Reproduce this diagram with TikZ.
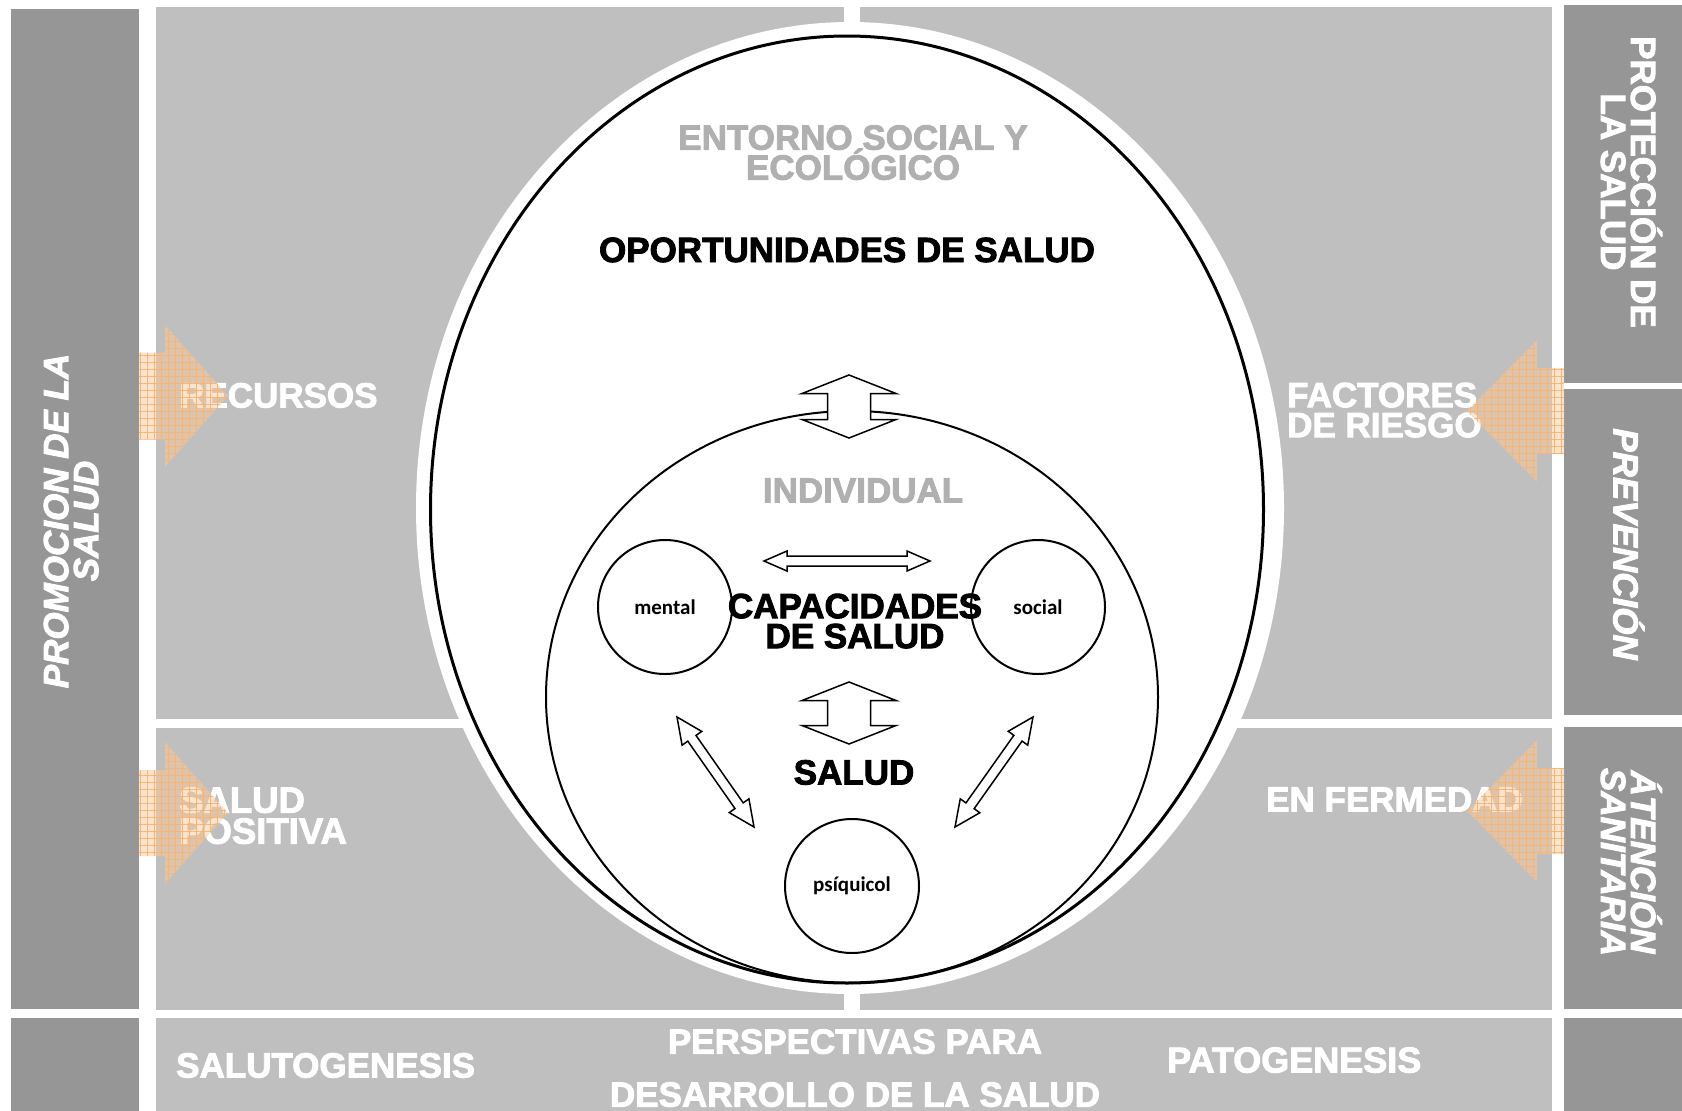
\documentclass[tikz,border=0pt]{standalone}
\usepackage{fontspec}
\setmainfont{Liberation Sans}[BoldFeatures={FakeBold=2.5},BoldItalicFeatures={FakeBold=2.5}]
\newfontfamily\calib{Carlito}
\usetikzlibrary{calc,patterns.meta}
\definecolor{darkcol}{HTML}{969696}
\definecolor{lightcol}{HTML}{BFBFBF}
\definecolor{txtgray}{HTML}{B0B0B0}
\definecolor{peach}{RGB}{251,201,153}
\definecolor{peachline}{RGB}{245,180,120}
\newcommand{\bigfont}{\fontsize{35}{30}\selectfont\bfseries\lineskiplimit=-60pt\relax}
\newcommand{\dblarrow}[5]{%
  \coordinate (#1-h) at ($(#1)!#5!(#2)$);
  \coordinate (#2-h) at ($(#2)!#5!(#1)$);
  \draw[blockarrow] (#1) -- ($(#1-h)!#4!90:(#2)$) -- ($(#1-h)!#3!90:(#2)$)
    -- ($(#2-h)!#3!-90:(#1)$) -- ($(#2-h)!#4!-90:(#1)$) -- (#2)
    -- ($(#2-h)!#4!90:(#1)$) -- ($(#2-h)!#3!90:(#1)$)
    -- ($(#1-h)!#3!-90:(#2)$) -- ($(#1-h)!#4!-90:(#2)$) -- cycle;
}
\newcommand{\peacharrow}[1]{%
  \fill[peach, fill opacity=0.5] #1;
  \path[pattern={Hatch[angle=0,distance=7pt,line width=0.4pt]}, pattern color=peachline, fill opacity=0.15] #1;
}
\begin{document}
\begin{tikzpicture}[x=1pt,y=-1pt,
  lbl/.style={font=\bigfont, text height=25pt, text depth=0pt, inner sep=0pt},
  mlbl/.style={font=\bigfont, inner sep=0pt},
  wlbl/.style={lbl, text=white},
  glbl/.style={lbl, text=txtgray},
  blbl/.style={lbl, text=black},
  ilbl/.style={lbl, text=white, font=\bigfont\itshape},
  smallc/.style={circle, draw, line width=2pt, minimum size=134pt, inner sep=0pt,
    font=\calib\fontsize{21}{24}\selectfont\bfseries},
  blockarrow/.style={draw, fill=white, line width=1.5pt, line join=miter},
]
\useasboundingbox (0,0) rectangle (1682,1111);
\fill[white] (0,0) rectangle (1682,1111);

% columns and panels
\fill[darkcol] (11,9) rectangle (139,1009);
\fill[darkcol] (11,1018) rectangle (139,1111);
\fill[lightcol] (156,7) rectangle (844,719);
\fill[lightcol] (860,7) rectangle (1552,719);
\fill[lightcol] (156,728) rectangle (844,1010);
\fill[lightcol] (860,728) rectangle (1552,1010);
\fill[lightcol] (156,1018) rectangle (1552,1111);
\fill[darkcol] (1564,5) rectangle (1682,383);
\fill[darkcol] (1564,389) rectangle (1682,715);
\fill[darkcol] (1564,727) rectangle (1682,1009);
\fill[darkcol] (1564,1018) rectangle (1682,1111);

% ellipses
\fill[white] (850,508) ellipse [x radius=434pt, y radius=486pt];
\draw[line width=3pt] (847,509.5) ellipse [x radius=416.5pt, y radius=473.5pt];
\draw[line width=2pt] (852,697) ellipse [x radius=306pt, y radius=286pt];

% small circles
\node[smallc] (mental) at (665,607) {mental};
\node[smallc] (social) at (1038,607) {social};
\node[smallc] (psiq) at (852,886) {psíquicol};

% texts
\node[mlbl, text=txtgray, align=center, anchor=north] (entorno) at (853,125) {ENTORNO SOCIAL Y\\ECOLÓGICO};
\node[blbl] (oport) at (847,249.5) {OPORTUNIDADES DE SALUD};
\node[glbl] (indiv) at (863,490) {INDIVIDUAL};
\node[mlbl, text=black, align=center, anchor=north] (capac) at (855,593.5) {CAPACIDADES\\DE SALUD};
\node[blbl] (salud) at (854,772) {SALUD};

\node[wlbl, anchor=west] (recursos) at (179,395) {RECURSOS};
\node[mlbl, text=white, align=left, anchor=north west] (fact) at (1287,382.5) {FACTORES\\DE RIESGO};
\node[mlbl, text=white, align=left, anchor=north west, font=\fontsize{36.5}{31}\selectfont\bfseries] (salpos) at (179,787) {SALUD\\POSITIVA};
\node[wlbl, anchor=west] (enferm) at (1266,799) {EN FERMEDAD};
\node[wlbl, anchor=west] (saluto) at (176,1065) {SALUTOGENESIS};
\node[wlbl, anchor=west, font=\fontsize{36}{30}\selectfont\bfseries] (patog) at (1167,1060) {PATOGENESIS};
\node[mlbl, text=white, align=center, anchor=north] (persp) at (855,1029) {PERSPECTIVAS PARA\\[23pt]DESARROLLO DE LA SALUD};

% rotated column texts
\node[mlbl, text=white, font=\bigfont\itshape, align=center, rotate=90, anchor=north] (promo) at (43.5,521) {PROMOCION DE LA\\SALUD};
\node[mlbl, text=white, align=center, rotate=-90, anchor=south] (prot) at (1600.5,182) {PROTECCIÓN DE\\LA SALUD};
\node[ilbl, rotate=-90] (prev) at (1626,544) {PREVENCIÓN};
\node[mlbl, text=white, font=\bigfont\itshape, align=center, rotate=-90, anchor=south] (aten) at (1600.5,862) {ÁTENCIÓN\\SANITARIA};

% block double arrows
\coordinate (va1) at (849,375); \coordinate (va2) at (849,438);
\dblarrow{va1}{va2}{21.5pt}{47pt}{18.5pt}
\coordinate (vb1) at (849,682); \coordinate (vb2) at (849,744);
\dblarrow{vb1}{vb2}{21.5pt}{47pt}{18.5pt}
\coordinate (ha1) at (764,561); \coordinate (ha2) at (930,561);
\dblarrow{ha1}{ha2}{5pt}{10pt}{23pt}
\coordinate (dl1) at (677,717); \coordinate (dl2) at (754,827);
\dblarrow{dl1}{dl2}{5pt}{12pt}{26pt}
\coordinate (dr1) at (1033,717); \coordinate (dr2) at (955,827);
\dblarrow{dr1}{dr2}{5pt}{12pt}{26pt}

% translucent orange arrows
\peacharrow{(139,352.5) -- (165,352.5) -- (165,325) -- (228,396) -- (165,467) -- (165,439.5) -- (139,439.5) -- cycle}
\peacharrow{(139,770) -- (165,770) -- (165,742) -- (228,813) -- (165,884) -- (165,856) -- (139,856) -- cycle}
\peacharrow{(1564,368) -- (1537,368) -- (1537,340) -- (1467,411) -- (1537,482) -- (1537,454) -- (1564,454) -- cycle}
\peacharrow{(1564,768) -- (1537,768) -- (1537,740) -- (1467,811) -- (1537,882) -- (1537,854) -- (1564,854) -- cycle}
\end{tikzpicture}
\end{document}
